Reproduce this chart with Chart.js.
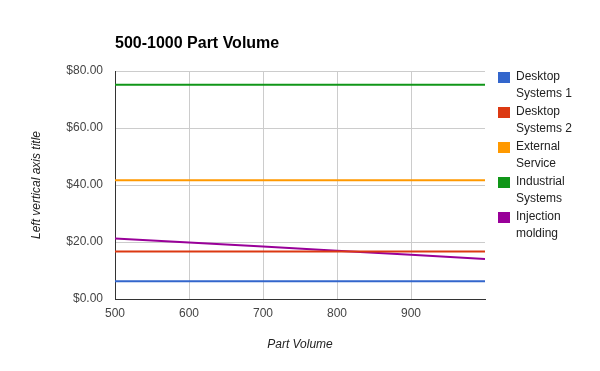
<!DOCTYPE html>
<html>
<head>
<meta charset="utf-8">
<script src="https://cdn.jsdelivr.net/npm/chart.js@4.4.1/dist/chart.umd.min.js"></script>
<style>
  body { margin: 0; background: #fff; }
  #wrap { width: 600px; height: 371px; }
</style>
</head>
<body>
<div id="wrap"><canvas id="mychart" width="600" height="371"></canvas></div>
<script>
// data

let partVolume = [500, 600, 700, 800, 900, 1000];

let desktop1 = [6.2, 6.2, 6.2, 6.2, 6.2, 6.2];
let desktop2 = [16.7, 16.7, 16.7, 16.7, 16.7, 16.7];
let externalService = [41.7, 41.7, 41.7, 41.7, 41.7, 41.7];
let industrial = [75.2, 75.2, 75.2, 75.2, 75.2, 75.2];
let injection = [21.2, 19.8, 18.4, 16.9, 15.5, 14.0];

let seriesNames = [
  ['Desktop', 'Systems 1'],
  ['Desktop', 'Systems 2'],
  ['External', 'Service'],
  ['Industrial', 'Systems'],
  ['Injection', 'molding']
];
let seriesColors = ['#3366cc', '#dc3912', '#ff9900', '#109618', '#990099'];

let yTicks = [0, 20, 40, 60, 80];
let xTicks = [500, 600, 700, 800, 900];

let ctxWindow = document.getElementById('mychart');

function toPoints(values) {
  let pts = [];
  for (let i = 0; i < partVolume.length; i++) {
    pts.push({ x: partVolume[i], y: values[i] });
  }
  return pts;
}

let allSeries = [desktop1, desktop2, externalService, industrial, injection];
let datasets = [];
for (let i = 0; i < allSeries.length; i++) {
  datasets.push({
    label: seriesNames[i].join(' '),
    data: toPoints(allSeries[i]),
    borderColor: seriesColors[i],
    backgroundColor: seriesColors[i],
    borderWidth: 2,
    pointRadius: 0,
    tension: 0
  });
}

// title + wrapped legend on the right
const sideStuff = {
  id: 'sideStuff',
  afterDraw(chart) {
    const c = chart.ctx;
    c.save();
    c.fillStyle = '#000';
    c.font = 'bold 16px "Liberation Sans", Arial, sans-serif';
    c.textBaseline = 'middle';
    c.textAlign = 'left';
    c.fillText('500-1000 Part Volume', 115, 44);

    c.font = '12px "Liberation Sans", Arial, sans-serif';
    for (let i = 0; i < chart.data.datasets.length; i++) {
      let top = 72 + i * 35;
      c.fillStyle = chart.data.datasets[i].borderColor;
      c.fillRect(498, top, 12, 11);
      c.fillStyle = '#222';
      c.fillText(seriesNames[i][0], 516, top + 5);
      c.fillText(seriesNames[i][1], 516, top + 22);
    }
    c.restore();
  }
};

const myChart = new Chart(ctxWindow, {
  type: 'line',
  data: { datasets: datasets },
  options: {
    responsive: false,
    animation: false,
    layout: { padding: { top: 71, right: 115, bottom: 0, left: 0 } },
    plugins: {
      legend: { display: false },
      tooltip: { enabled: false }
    },
    scales: {
      x: {
        type: 'linear',
        min: 500,
        max: 1000,
        afterBuildTicks(scale) {
          scale.ticks = xTicks.map(v => ({ value: v }));
        },
        afterFit(scale) { scale.height = 72; },
        grid: { color: '#cccccc', drawTicks: false },
        border: { color: '#333333', width: 1 },
        ticks: {
          padding: 7,
          color: '#444',
          font: { family: '"Liberation Sans", Arial, sans-serif', size: 12 }
        },
        title: {
          display: true,
          text: 'Part Volume',
          color: '#222',
          padding: { top: 0, bottom: 19 },
          font: { family: '"Liberation Sans", Arial, sans-serif', size: 12, style: 'italic' }
        }
      },
      y: {
        min: 0,
        max: 80,
        afterBuildTicks(scale) {
          scale.ticks = yTicks.map(v => ({ value: v }));
        },
        afterFit(scale) { scale.width = 115; },
        grid: { color: '#cccccc', drawTicks: false },
        border: { color: '#333333', width: 1 },
        ticks: {
          padding: 12,
          color: '#444',
          font: { family: '"Liberation Sans", Arial, sans-serif', size: 12 },
          callback: v => '$' + v.toFixed(2)
        },
        title: {
          display: true,
          text: 'Left vertical axis title',
          color: '#222',
          padding: { top: 29, bottom: 0 },
          font: { family: '"Liberation Sans", Arial, sans-serif', size: 12, style: 'italic' }
        }
      }
    }
  },
  plugins: [sideStuff]
});
</script>
</body>
</html>
